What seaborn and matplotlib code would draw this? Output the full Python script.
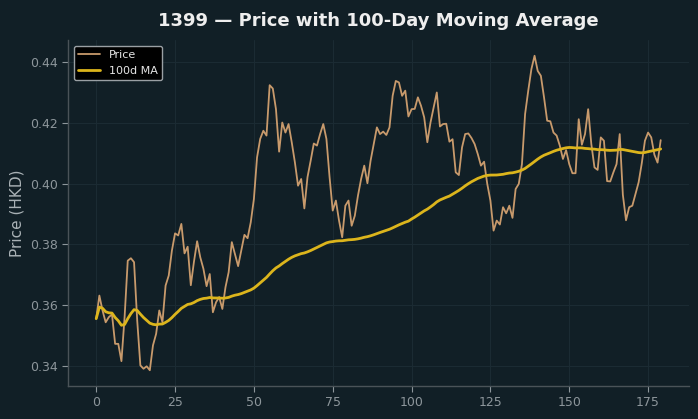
import numpy as np
import pandas as pd
import seaborn as sns
import matplotlib
matplotlib.use("Agg")
import matplotlib.pyplot as plt

# ---- data ----
days = list(range(180))
price = [
    0.3555, 0.3631, 0.3582, 0.3543, 0.3560, 0.3569, 0.3472, 0.3472, 0.3415, 0.3560,
    0.3746, 0.3754, 0.3741, 0.3549, 0.3401, 0.3390, 0.3398, 0.3385, 0.3467, 0.3505,
    0.3582, 0.3543, 0.3664, 0.3697, 0.3779, 0.3836, 0.3829, 0.3867, 0.3770, 0.3792,
    0.3665, 0.3743, 0.3810, 0.3757, 0.3719, 0.3662, 0.3702, 0.3576, 0.3609, 0.3626,
    0.3587, 0.3659, 0.3708, 0.3807, 0.3768, 0.3728, 0.3779, 0.3831, 0.3820, 0.3872,
    0.3949, 0.4086, 0.4147, 0.4174, 0.4158, 0.4324, 0.4313, 0.4245, 0.4105, 0.4201,
    0.4168, 0.4196, 0.4136, 0.4070, 0.3993, 0.4015, 0.3918, 0.4021, 0.4075, 0.4132,
    0.4125, 0.4163, 0.4196, 0.4147, 0.4021, 0.3911, 0.3944, 0.3878, 0.3823, 0.3927,
    0.3944, 0.3861, 0.3894, 0.3960, 0.4015, 0.4059, 0.4001, 0.4075, 0.4130, 0.4185,
    0.4163, 0.4171, 0.4160, 0.4185, 0.4289, 0.4338, 0.4333, 0.4289, 0.4306, 0.4221,
    0.4245, 0.4246, 0.4284, 0.4256, 0.4218, 0.4136, 0.4201, 0.4251, 0.4300, 0.4188,
    0.4196, 0.4197, 0.4138, 0.4146, 0.4037, 0.4028, 0.4119, 0.4163, 0.4165, 0.4150,
    0.4130, 0.4097, 0.4059, 0.4072, 0.3999, 0.3944, 0.3845, 0.3878, 0.3865, 0.3922,
    0.3902, 0.3927, 0.3887, 0.3982, 0.3999, 0.4064, 0.4229, 0.4306, 0.4377, 0.4421,
    0.4371, 0.4355, 0.4284, 0.4207, 0.4205, 0.4168, 0.4158, 0.4125, 0.4081, 0.4110,
    0.4064, 0.4034, 0.4034, 0.4212, 0.4128, 0.4163, 0.4245, 0.4130, 0.4053, 0.4045,
    0.4152, 0.4141, 0.4008, 0.4007, 0.4037, 0.4064, 0.4163, 0.3963, 0.3879, 0.3922,
    0.3927, 0.3966, 0.4004, 0.4067, 0.4141, 0.4168, 0.4152, 0.4095, 0.4069, 0.4143,
]
ma_window = 100
title = "1399 \u2014 Price with 100-Day Moving Average"
ylabel = "Price (HKD)"

df = pd.DataFrame({"day": days, "price": price})
df["ma"] = df["price"].rolling(ma_window, min_periods=1).mean()

BG = "#111f26"
sns.set_theme(style="dark")
plt.rcParams["font.family"] = ["DejaVu Sans"]

fig = plt.figure(figsize=(6.98, 4.19), dpi=100, facecolor=BG)
ax = fig.add_axes([0.0974, 0.0788, 0.8896, 0.8257])
ax.set_facecolor(BG)

sns.lineplot(data=df, x="day", y="price", ax=ax, color="#c89a6c", linewidth=1.3,
             label="Price")
sns.lineplot(data=df, x="day", y="ma", ax=ax, color="#dcb51c", linewidth=2.0,
             label="100d MA")

ax.set_xticks([0, 25, 50, 75, 100, 125, 150, 175])
ax.set_yticks([0.34, 0.36, 0.38, 0.40, 0.42, 0.44])
ax.grid(True, color="#1b2b33", linewidth=0.8)
ax.tick_params(axis="both", colors="#8d969b", labelsize=9, length=4, width=0.8,
               direction="out", bottom=True, left=True)
for s in ["top", "right"]:
    ax.spines[s].set_visible(False)
for s in ["left", "bottom"]:
    ax.spines[s].set_visible(True)
    ax.spines[s].set_color("#4a5358")
    ax.spines[s].set_linewidth(1.0)

ax.set_xlabel("")
ax.set_ylabel(ylabel, color="#aab2b6", fontsize=11)
ax.set_title(title, color="#eeeeee", fontsize=13, fontweight="bold", pad=10)

leg = ax.legend(loc="upper left", fontsize=8, facecolor="#000000",
                edgecolor="#9aa0a4", framealpha=1.0)
for t in leg.get_texts():
    t.set_color("#e6e6e6")

fig.savefig("out.png", dpi=100, facecolor=BG)
